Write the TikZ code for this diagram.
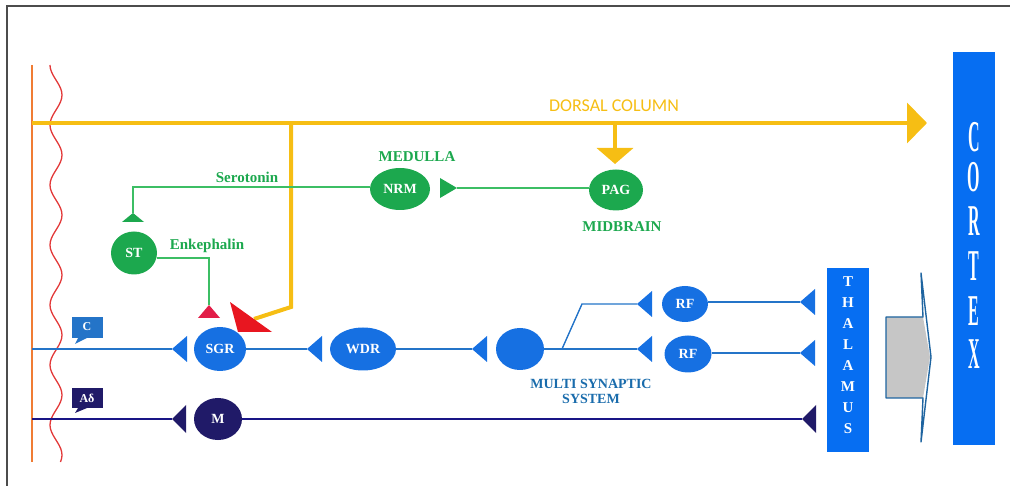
\documentclass[tikz,border=0pt]{standalone}
\usepackage{graphicx}
\usepackage{fontspec}
\setmainfont{Liberation Serif}
\newfontfamily\calfont{Carlito}
\usetikzlibrary{shapes.geometric,arrows.meta}

\definecolor{dorsal}{RGB}{246,190,20}
\definecolor{ngreen}{RGB}{28,168,78}
\definecolor{lgreen}{RGB}{60,190,100}
\definecolor{nblue}{RGB}{22,112,226}
\definecolor{lblue}{RGB}{36,116,200}
\definecolor{navy}{RGB}{32,26,104}
\definecolor{boxblue}{RGB}{6,110,242}
\definecolor{msys}{RGB}{26,108,172}
\definecolor{spine}{RGB}{240,124,52}
\definecolor{wave}{RGB}{226,56,56}
\definecolor{redhead}{RGB}{232,22,32}
\definecolor{crimson}{RGB}{226,30,72}
\definecolor{edgeblue}{RGB}{30,100,160}

\begin{document}
\begin{tikzpicture}[x=1pt, y=-1pt,
  cell/.style={ellipse, inner sep=0pt, text=white, font=\fontsize{14}{14}\selectfont\bfseries},
  greencell/.style={cell, fill=ngreen},
  bluecell/.style={cell, fill=nblue},
  greenlab/.style={text=ngreen, font=\fontsize{15}{15}\selectfont\bfseries},
  boxlet/.style={text=white, font=\fontsize{15}{15}\selectfont\bfseries},
  tag/.style={text=white, font=\fontsize{12}{12}\selectfont\bfseries},
  dorsalline/.style={draw=dorsal, line width=4pt}]

\useasboundingbox (0,0) rectangle (1010,486);
\draw[gray!60!black, line width=1.2pt] (7,486) -- (7,6) -- (1010,6);

% spinal cord edge
\draw[spine, line width=1.4pt] (32,65) -- (32,462);
\draw[wave, line width=1.3pt] plot[domain=65:462, samples=120, smooth] ({56-6*cos(6*(\x-65))}, \x);

% dorsal column
\coordinate (dcstart) at (32,123);
\coordinate (dcend) at (927,123);
\coordinate (dcbranch) at (291,123);
\coordinate (dcpag) at (615,123);
\coordinate (pagin) at (615,164);
\coordinate (dcknee) at (291,307);
\coordinate (dcsgr) at (254,319);
\draw[dorsalline, -{Triangle[length=20pt, width=40pt]}] (dcstart) -- (dcend);
\draw[dorsalline, -{Triangle[length=16pt, width=36pt]}] (dcpag) -- (pagin);
\draw[dorsalline] (dcbranch) -- (dcknee) -- (dcsgr);
\fill[redhead] (230,302) -- (272,332) -- (238,332) -- cycle;
\node[text=dorsal, font=\calfont\fontsize{18}{18}\selectfont] (dclab) at (614,106) {DORSAL COLUMN};

% descending control
\node[greencell, minimum width=60, minimum height=42] (nrm) at (400,189) {NRM};
\node[greencell, minimum width=54, minimum height=41] (pag) at (616,190) {PAG};
\node[greencell, minimum width=46, minimum height=43] (st) at (134,253) {ST};
\node[greenlab] (medulla) at (417,157) {MEDULLA};
\node[greenlab] (midbrain) at (622,227) {MIDBRAIN};
\node[greenlab] (sero) at (247,177) {Serotonin};
\node[greenlab] (enk) at (207,246) {Enkephalin};

\coordinate (tnrm) at (457,188);
\coordinate (sercorner) at (133,187);
\coordinate (tst) at (133,213);
\coordinate (enkcorner) at (209,258);
\coordinate (tsgrtop) at (209,305);
\draw[lgreen, line width=1.2pt] (pag.west |- tnrm) -- (tnrm);
\fill[ngreen] (tnrm) -- ++(-17,-10) -- ++(0,20) -- cycle;
\draw[lgreen, line width=1.2pt] (nrm.west |- sercorner) -- (sercorner) -- (tst);
\fill[ngreen] (tst) -- ++(-11,9) -- ++(22,0) -- cycle;
\draw[lgreen, line width=1.2pt] (st.east |- enkcorner) -- (enkcorner) -- (tsgrtop);
\fill[crimson] (tsgrtop) -- ++(-11,13) -- ++(22,0) -- cycle;

% fibre tags
\fill[lblue] (72,317) rectangle (103,338);
\fill[lblue] (78,338) -- (87,338) -- (75,344) -- cycle;
\node[tag] (ctag) at (87,327) {C};
\fill[navy] (72,388) rectangle (103,408);
\fill[navy] (78,408) -- (87,408) -- (75,413) -- cycle;
\node[tag] (adtag) at (87,398) {Aδ};

% C fibre pathway
\node[bluecell, minimum width=52, minimum height=44] (sgr) at (220,349) {SGR};
\node[bluecell, minimum width=66, minimum height=43] (wdr) at (363,349) {WDR};
\node[bluecell, minimum width=48, minimum height=42] (msn) at (520,349) {};
\node[bluecell, minimum width=46, minimum height=36] (rfa) at (685,304) {RF};
\node[bluecell, minimum width=47, minimum height=37] (rfb) at (688,354) {RF};

\coordinate (cin) at (32,349);
\coordinate (tsgr) at (172,349);
\coordinate (twdr) at (307,349);
\coordinate (tmsn) at (472,349);
\coordinate (split) at (562,349);
\coordinate (splitup) at (582,304);
\coordinate (trfa) at (637,304);
\coordinate (trfb) at (637,349);
\coordinate (ttha) at (800,302);
\coordinate (tthb) at (800,353);
\draw[lblue, line width=1.4pt] (cin) -- (tsgr);
\draw[lblue, line width=1.4pt] (sgr.east) -- (twdr);
\draw[lblue, line width=1.4pt] (wdr.east) -- (tmsn);
\draw[lblue, line width=1.4pt] (msn.east) -- (trfb);
\draw[lblue, line width=1.4pt] (split) -- (splitup) -- (trfa);
\draw[lblue, line width=1.4pt] (rfa.east |- ttha) -- (ttha);
\draw[lblue, line width=1.4pt] (rfb.east |- tthb) -- (tthb);
\foreach \t in {tsgr,twdr,tmsn,trfa,trfb,ttha,tthb}
  \fill[nblue] (\t) -- ++(15,-13) -- ++(0,26) -- cycle;

\node[text=msys, font=\fontsize{14}{15}\selectfont\bfseries, align=center] (msys) at (591,391) {MULTI SYNAPTIC\\SYSTEM};

% A-delta pathway
\node[cell, fill=navy, minimum width=48, minimum height=42] (m) at (218,419) {M};
\coordinate (adin) at (32,419);
\coordinate (tm) at (172,419);
\coordinate (tthc) at (802,419);
\draw[navy!80!blue, line width=1.6pt] (adin) -- (tm);
\draw[navy!80!blue, line width=1.6pt] (m.east) -- (tthc);
\foreach \t in {tm,tthc}
  \fill[navy] (\t) -- ++(14,-14) -- ++(0,28) -- cycle;

% thalamus and cortex
\fill[boxblue] (827,268) rectangle (869,452);
\foreach \l [count=\i from 0] in {T,H,A,L,A,M,U,S}
  \node[boxlet] (tha\i) at (848,282+21*\i) {\l};
\fill[boxblue] (953,52) rectangle (995,445);
\foreach \l/\yy [count=\i] in {C/137,O/177,R/221,T/266,E/311,X/354}
  \node[text=white, font=\fontsize{20}{20}\selectfont\bfseries] (cx\i) at (974,\yy) {\scalebox{0.8}[2.2]{\l}};

\fill[gray!45] (886,317) -- (923,317) -- (930,357) -- (923,398) -- (886,398) -- cycle;
\draw[edgeblue, line width=1.4pt, line join=round] (886,317) -- (923,317) -- (921,273) -- (931,357) -- (921,442) -- (923,398) -- (886,398) -- cycle;
\end{tikzpicture}
\end{document}
